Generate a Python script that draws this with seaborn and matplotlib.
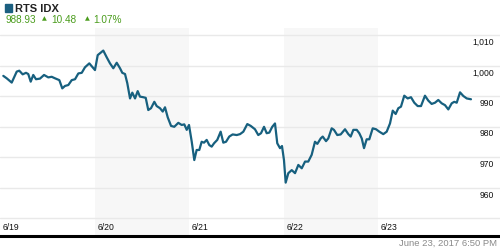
import matplotlib
matplotlib.use("Agg")
import matplotlib.pyplot as plt
import matplotlib.transforms as mtransforms
from matplotlib.patches import Rectangle
import seaborn as sns
import pandas as pd

# ---- data (time in trading sessions since 6/19 open, value in index points) ----
t = [0.035, 0.071, 0.124, 0.177, 0.204, 0.240, 0.275, 0.299, 0.325, 0.352,
     0.381, 0.423, 0.466, 0.511, 0.547, 0.582, 0.628, 0.659, 0.688, 0.723,
     0.759, 0.794, 0.829, 0.865, 0.899, 0.945, 1.005, 1.034, 1.058, 1.093,
     1.129, 1.164, 1.199, 1.235, 1.270, 1.294, 1.323, 1.347, 1.376, 1.400,
     1.429, 1.457, 1.481, 1.516, 1.542, 1.569, 1.598, 1.633, 1.658, 1.693,
     1.722, 1.746, 1.775, 1.810, 1.844, 1.887, 1.923, 1.950, 1.976, 2.000,
     2.029, 2.056, 2.081, 2.109, 2.134, 2.159, 2.187, 2.215, 2.240, 2.265,
     2.299, 2.335, 2.363, 2.392, 2.426, 2.462, 2.505, 2.540, 2.575, 2.617,
     2.653, 2.698, 2.733, 2.762, 2.794, 2.822, 2.850, 2.881, 2.910, 2.934,
     2.963, 2.984, 3.005, 3.023, 3.051, 3.087, 3.122, 3.157, 3.193, 3.228,
     3.262, 3.298, 3.333, 3.358, 3.394, 3.415, 3.450, 3.474, 3.510, 3.534,
     3.569, 3.605, 3.651, 3.686, 3.711, 3.739, 3.775, 3.802, 3.828, 3.852,
     3.880, 3.908, 3.944, 3.979, 4.014, 4.056, 4.092, 4.127, 4.156, 4.187,
     4.215, 4.243, 4.278, 4.314, 4.349, 4.384, 4.420, 4.455, 4.497, 4.532,
     4.568, 4.603, 4.638, 4.674, 4.709, 4.744, 4.780, 4.807, 4.833, 4.868,
     4.903, 4.939, 4.984]
values = [996.6, 995.8, 994.4, 998.0, 998.3, 997.1, 997.6, 997.2, 994.7, 996.9,
          995.5, 995.7, 996.9, 996.1, 996.3, 995.8, 995.2, 992.5, 993.3, 993.6,
          995.2, 995.5, 997.4, 997.6, 999.4, 1000.7, 998.5, 1003.4, 1004.0, 1004.9,
          1002.7, 1000.7, 999.1, 1000.9, 999.1, 997.6, 997.2, 994.2, 989.2, 991.1,
          989.2, 991.6, 989.8, 989.6, 989.4, 985.4, 986.0, 988.1, 986.7, 986.0,
          984.9, 986.3, 983.0, 980.2, 979.9, 981.2, 980.5, 980.7, 978.9, 980.5,
          975.0, 969.0, 972.3, 972.3, 975.0, 974.7, 975.6, 973.9, 973.4, 974.5,
          975.6, 978.3, 974.7, 975.0, 976.7, 977.4, 977.2, 977.5, 978.3, 980.8,
          980.2, 979.1, 977.2, 977.8, 979.9, 977.8, 978.0, 979.9, 981.0, 974.5,
          972.9, 973.6, 969.0, 961.6, 964.7, 965.7, 964.7, 967.4, 966.3, 968.5,
          968.5, 970.7, 975.0, 974.3, 976.1, 976.7, 975.2, 976.1, 979.4, 978.9,
          977.2, 977.4, 979.1, 977.5, 976.7, 978.9, 978.9, 977.8, 976.1, 972.9,
          975.8, 975.8, 979.4, 979.1, 978.3, 977.5, 978.3, 981.0, 985.2, 984.1,
          986.0, 986.5, 990.1, 989.2, 989.6, 987.8, 986.7, 986.7, 990.1, 988.5,
          987.4, 987.8, 988.7, 987.6, 987.0, 985.6, 987.6, 988.1, 987.8, 991.2,
          990.0, 989.2, 988.93]

day_labels = ["6/19", "6/20", "6/21", "6/22", "6/23"]
y_ticks = [950, 960, 970, 980, 990, 1000, 1010]
title = "RTS IDX"
last_value = "988.93"
change = "10.48"
change_pct = "1.07%"
footer = "June 23, 2017 6:50 PM"

# ---- style ----
sns.set_theme(style="white")
plt.rcParams["font.family"] = ["Liberation Sans", "DejaVu Sans"]

LINE = "#17607f"
GREEN = "#4a9c1c"
W, H = 500, 250
DAY_PX = 94.5

fig = plt.figure(figsize=(5, 2.5), dpi=100)
fig.patch.set_facecolor("white")
ax = fig.add_axes([0, 1 - 236 / H, 1, (236 - 28) / H])
ax.set_facecolor("white")

px_per_unit = 3.05
ax.set_xlim(0, W / DAY_PX)
ax.set_ylim(950 - 18 / px_per_unit, 1010 + 7 / px_per_unit)

# shaded alternate sessions
for i in (1, 3):
    ax.axvspan(i, i + 1, color="#f7f7f7", zorder=0, lw=0)

# gridlines
for v in y_ticks:
    ax.axhline(v, color="#e9e9e9", lw=1, zorder=1)

df = pd.DataFrame({"t": t, "value": values})
sns.lineplot(data=df, x="t", y="value", ax=ax, color=LINE, lw=1.6, zorder=3)

ax.set_xlabel("")
ax.set_ylabel("")
ax.set_xticks([])
ax.set_yticks([])
for s in ("top", "left", "right"):
    ax.spines[s].set_visible(False)
ax.spines["bottom"].set_color("black")
ax.spines["bottom"].set_linewidth(2.2)

# y labels (right side, just below each gridline)
ytrans = mtransforms.blended_transform_factory(ax.transAxes, ax.transData)
off = mtransforms.ScaledTranslation(0, -3 / 100, fig.dpi_scale_trans)
for v in y_ticks[1:]:
    ax.text(494 / W, v, f"{v:,}", transform=ytrans + off, ha="right", va="top",
            fontsize=6.2, color="#111111")

# x labels
xtrans = mtransforms.blended_transform_factory(ax.transData, ax.transAxes)
for i, lab in enumerate(day_labels):
    ax.text(i + 3 / DAY_PX, (236 - 227) / (236 - 28), lab, transform=xtrans,
            ha="left", va="center", fontsize=6.2, color="#111111")

# header
fig.patches.append(Rectangle((4.5 / W, 1 - 11.5 / H), 7 / W, 7 / H,
                             transform=fig.transFigure, color="#1b5f80"))
fig.text(15 / W, 1 - 8.5 / H, title, fontsize=8, fontweight="bold",
         color="#222222", ha="left", va="center")
yg = 1 - 20 / H
fig.text(5 / W, yg, last_value, fontsize=7.2, color=GREEN, ha="left", va="center")
fig.text(44 / W, yg + 0.004, "\u25B2", fontsize=4.5, color=GREEN, ha="center",
         va="center", family="DejaVu Sans")
fig.text(51 / W, yg, change, fontsize=7.2, color=GREEN, ha="left", va="center")
fig.text(87 / W, yg + 0.004, "\u25B2", fontsize=4.5, color=GREEN, ha="center",
         va="center", family="DejaVu Sans")
fig.text(93 / W, yg, change_pct, fontsize=7.2, color=GREEN, ha="left", va="center")

fig.text(497 / W, 1 - 243.5 / H, footer, fontsize=6.8, color="#8a8a8a",
         ha="right", va="center")

fig.savefig("out.png", dpi=100, facecolor="white")
